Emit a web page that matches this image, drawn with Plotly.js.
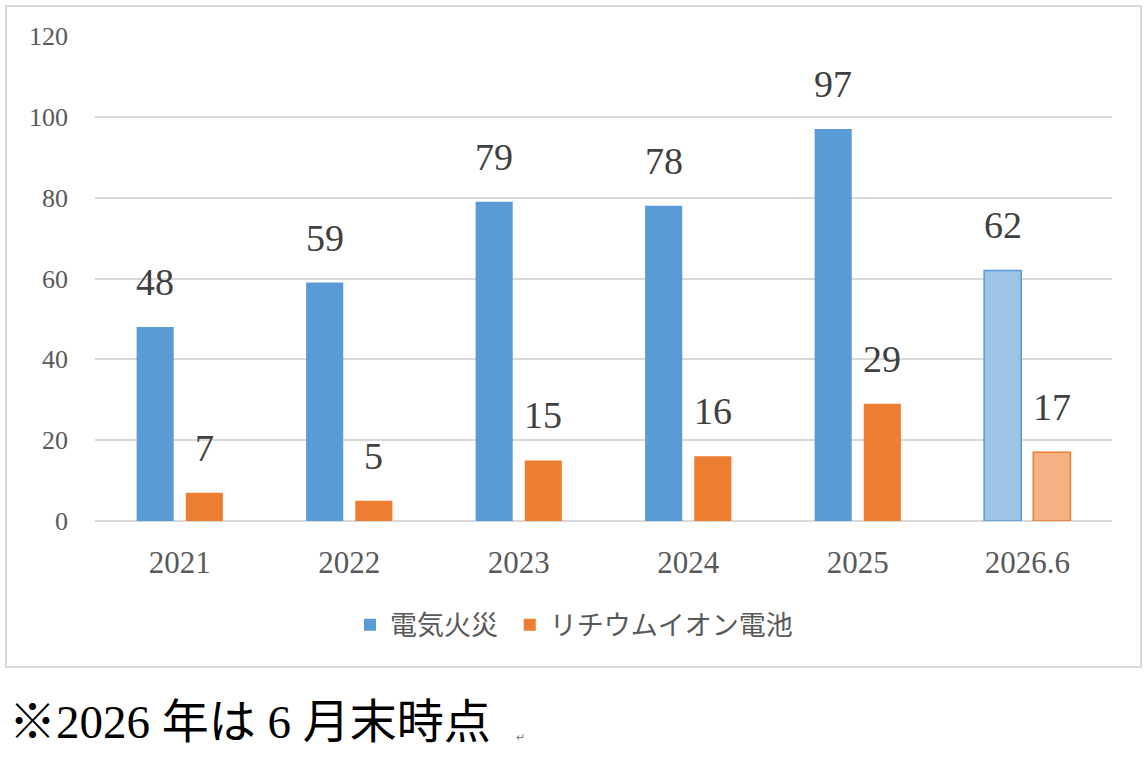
<!DOCTYPE html>
<html>
<head>
<meta charset="utf-8">
<script src="https://cdn.plot.ly/plotly-3.0.1.min.js"></script>
<style>html,body{margin:0;padding:0;background:#fff;}#chart{width:1148px;height:768px;}</style>
</head>
<body>
<div id="chart"></div>
<script>
const categories = ['2021', '2022', '2023', '2024', '2025', '2026.6'];
const electricFire = [48, 59, 79, 78, 97, 62];
const lithiumBattery = [7, 5, 15, 16, 29, 17];
const seriesNames = ['電気火災', 'リチウムイオン電池'];
const yTicks = [0, 20, 40, 60, 80, 100, 120];
const footnote = '※2026 年は 6 月末時点';

const SERIF = '"Liberation Serif", "Noto Sans CJK JP", serif';
const last = categories.length - 1;
const blueFill = categories.map((c, i) => i === last ? '#9DC3E6' : '#5B9BD5');
const orangeFill = categories.map((c, i) => i === last ? '#F4B183' : '#ED7D31');
const lineW = categories.map((c, i) => i === last ? 1.5 : 0);

const traces = [
  {type: 'bar', name: seriesNames[0] + '\u00a0', x: categories, y: electricFire,
   marker: {color: blueFill, line: {color: '#5B9BD5', width: lineW}}, hoverinfo: 'none'},
  {type: 'bar', name: seriesNames[1], x: categories, y: lithiumBattery,
   marker: {color: orangeFill, line: {color: '#ED7D31', width: lineW}}, hoverinfo: 'none'}
];

const annotations = [];
categories.forEach((c, i) => {
  annotations.push({x: i, y: electricFire[i], xref: 'x', yref: 'y', text: String(electricFire[i]),
    showarrow: false, xanchor: 'center', yanchor: 'bottom', xshift: -24.5, yshift: 22,
    font: {family: SERIF, size: 38, color: '#404040'}});
  annotations.push({x: i, y: lithiumBattery[i], xref: 'x', yref: 'y', text: String(lithiumBattery[i]),
    showarrow: false, xanchor: 'center', yanchor: 'bottom', xshift: 24.5, yshift: 22,
    font: {family: SERIF, size: 38, color: '#404040'}});
});
annotations.push({xref: 'paper', yref: 'paper', x: -0.0866, y: -0.4144, xanchor: 'left', yanchor: 'middle',
  text: footnote, showarrow: false, font: {family: SERIF, size: 47, color: '#000000'}});
annotations.push({xref: 'paper', yref: 'paper', x: 0.412, y: -0.445, xanchor: 'left', yanchor: 'middle',
  text: '↵', showarrow: false, font: {family: SERIF, size: 11, color: '#808080'}});

const layout = {
  width: 1148, height: 768,
  margin: {l: 95, r: 36, t: 36, b: 247, autoexpand: false},
  paper_bgcolor: '#ffffff', plot_bgcolor: '#ffffff',
  barmode: 'group', bargap: 0.42, bargroupgap: 0.245,
  showlegend: true,
  legend: {orientation: 'h', xref: 'container', yref: 'container', x: 0.500, y: 0.186,
    xanchor: 'center', yanchor: 'middle', font: {family: SERIF, size: 27, color: '#595959'},
    itemwidth: 30, tracegroupgap: 0},
  xaxis: {type: 'category', range: [-0.5, categories.length - 0.5], autorange: false,
    showgrid: false, zeroline: false, showline: false, ticks: '',
    tickfont: {family: SERIF, size: 31, color: '#595959'}, ticklabelstandoff: 20, automargin: false},
  yaxis: {range: [0, 120], autorange: false, tickvals: yTicks, ticktext: yTicks.map(String), showgrid: true,
    gridcolor: '#D9D9D9', gridwidth: 2, zeroline: true, zerolinecolor: '#D9D9D9', zerolinewidth: 2,
    showline: false, ticks: '', tickfont: {family: SERIF, size: 26, color: '#595959'},
    ticklabelstandoff: 26, automargin: false},
  shapes: [{type: 'rect', xref: 'paper', yref: 'paper', x0: -0.0875, x1: 1.0285, y0: -0.301, y1: 1.0619,
    line: {color: '#D9D9D9', width: 2}, fillcolor: 'rgba(0,0,0,0)', layer: 'below'}],
  annotations: annotations
};

Plotly.newPlot('chart', traces, layout, {staticPlot: true, displayModeBar: false});
</script>
</body>
</html>
